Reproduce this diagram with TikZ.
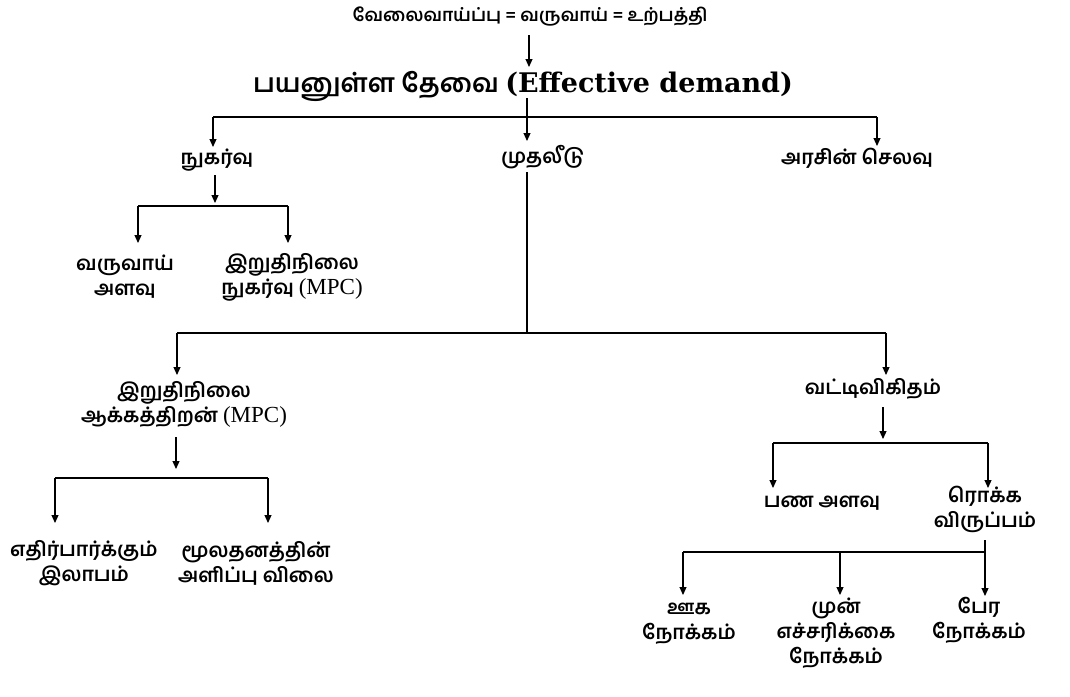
\documentclass[tikz,border=0pt]{standalone}
\usepackage{fontspec}
\newfontfamily\tam[Script=Tamil]{Hind Madurai}
\newfontfamily\lat{Liberation Serif}
\newfontfamily\latb{DejaVu Serif}
\usetikzlibrary{arrows.meta}
\tikzset{
  lbl/.style={font=\tam\bfseries\fontsize{20}{25}\selectfont, align=center, inner sep=0pt},
  ttl/.style={font=\tam\bfseries\fontsize{18}{22}\selectfont, align=center, inner sep=0pt},
  big/.style={font=\tam\bfseries\fontsize{26}{30}\selectfont, align=center, inner sep=0pt},
  arr/.style={-{Triangle[length=8pt,width=7pt]}, line width=1.1pt},
  ln/.style={line width=1.1pt},
}
\newcommand{\mpcx}{{\lat\mdseries\fontsize{23}{25}\selectfont (MPC)}}
\begin{document}
\begin{tikzpicture}[x=1pt,y=-1pt]
\useasboundingbox (0,0) rectangle (1070,696);
% texts
\node[ttl] (title) at (530,17) {வேலைவாய்ப்பு = வருவாய் = உற்பத்தி};
\node[big] (eff) at (523,86) {பயனுள்ள தேவை {\latb\bfseries\fontsize{27}{30}\selectfont (Effective demand)}};
\node[lbl] (nuk) at (217,160) {நுகர்வு};
\node[lbl] (mud) at (543,157) {முதலீடு};
\node[lbl] (ars) at (857,158) {அரசின் செலவு};
\node[lbl] (var) at (125,277) {வருவாய்\\அளவு};
\node[lbl] (mpc) at (292,277) {இறுதிநிலை\\நுகர்வு \mpcx};
\node[lbl] (mec) at (184,404) {இறுதிநிலை\\ஆக்கத்திறன் \mpcx};
\node[lbl] (lab) at (84,563) {எதிர்பார்க்கும்\\இலாபம்};
\node[lbl] (mul) at (256,563) {மூலதனத்தின்\\அளிப்பு விலை};
\node[lbl] (vat) at (873,389) {வட்டிவிகிதம்};
\node[lbl] (pan) at (822,503) {பண அளவு};
\node[lbl] (rok) at (985,509) {ரொக்க\\விருப்பம்};
\node[lbl] (uka) at (689,624) {ஊக\\நோக்கம்};
\node[lbl] (mun) at (836,633) {முன்\\எச்சரிக்கை\\நோக்கம்};
\node[lbl] (per) at (979,620) {பேர\\நோக்கம்};
% junction coordinates
\coordinate (t-out) at (529,35);  \coordinate (eff-in) at (529,67);
\coordinate (eff-out) at (527,98); \coordinate (mud-in) at (527,141);
\coordinate (b1l) at (213,117); \coordinate (b1r) at (877,117);
\coordinate (nuk-in) at (213,147); \coordinate (ars-in) at (877,146);
\coordinate (nuk-out) at (215,175); \coordinate (nuk-j) at (215,203);
\coordinate (b2l) at (138,206); \coordinate (b2r) at (288,206);
\coordinate (var-in) at (138,243); \coordinate (mpc-in) at (288,243);
\coordinate (mud-out) at (527,172); \coordinate (b3m) at (527,333);
\coordinate (b3l) at (177,333); \coordinate (b3r) at (886,333);
\coordinate (mec-in) at (177,375); \coordinate (vat-in) at (886,375);
\coordinate (mec-out) at (176,437); \coordinate (mec-j) at (176,469);
\coordinate (b4l) at (55,478); \coordinate (b4r) at (268,478);
\coordinate (lab-in) at (55,523); \coordinate (mul-in) at (268,523);
\coordinate (vat-out) at (883,407); \coordinate (vat-j) at (883,439);
\coordinate (b5l) at (773,443); \coordinate (b5r) at (988,443);
\coordinate (pan-in) at (773,488); \coordinate (rok-in) at (988,488);
\coordinate (rok-out) at (985,540);
\coordinate (b6l) at (683,552); \coordinate (b6m) at (840,552); \coordinate (b6r) at (985,552);
\coordinate (uka-in) at (683,595); \coordinate (mun-in) at (840,595); \coordinate (per-in) at (985,596);
% connectors
\draw[arr] (t-out) -- (eff-in);
\draw[ln] (b1l) -- (b1r);
\draw[arr] (eff-out) -- (mud-in);
\draw[arr] (b1l) -- (nuk-in);
\draw[arr] (b1r) -- (ars-in);
\draw[arr] (nuk-out) -- (nuk-j);
\draw[ln] (b2l) -- (b2r);
\draw[arr] (b2l) -- (var-in);
\draw[arr] (b2r) -- (mpc-in);
\draw[ln] (mud-out) -- (b3m);
\draw[ln] (b3l) -- (b3r);
\draw[arr] (b3l) -- (mec-in);
\draw[arr] (b3r) -- (vat-in);
\draw[arr] (mec-out) -- (mec-j);
\draw[ln] (b4l) -- (b4r);
\draw[arr] (b4l) -- (lab-in);
\draw[arr] (b4r) -- (mul-in);
\draw[arr] (vat-out) -- (vat-j);
\draw[ln] (b5l) -- (b5r);
\draw[arr] (b5l) -- (pan-in);
\draw[arr] (b5r) -- (rok-in);
\draw[ln] (b6l) -- (b6r);
\draw[arr] (rok-out) -- (per-in);
\draw[arr] (b6l) -- (uka-in);
\draw[arr] (b6m) -- (mun-in);
\end{tikzpicture}
\end{document}
